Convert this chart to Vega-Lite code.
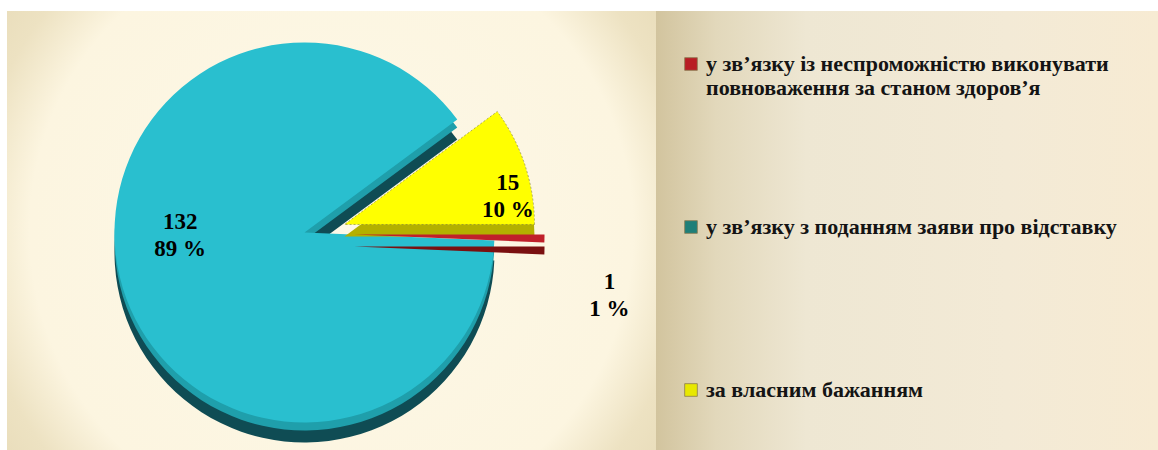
{
  "$schema": "https://vega.github.io/schema/vega-lite/v6.json",
  "background": "white",
  "padding": {"left": 7, "top": 11, "right": 0, "bottom": 0},
  "config": {"view": {"stroke": null}, "font": "Liberation Serif"},
  "data": {
    "values": [
      {"cat": "у зв’язку із неспроможністю виконувати\nповноваження за станом здоров’я", "value": 1, "label": "1\n1 %", "n": 2},
      {"cat": "у  зв’язку з поданням заяви про відставку", "value": 132, "label": "132\n89 %", "n": 3},
      {"cat": "за власним бажанням", "value": 15, "label": "15\n10 %", "n": 1}
    ]
  },
  "spacing": 0,
  "resolve": {"scale": {"color": "independent", "theta": "independent"}, "legend": {"color": "independent"}},
  "hconcat": [
    {
      "width": 649,
      "height": 439,
      "view": {
        "stroke": null,
        "fill": {
          "gradient": "radial",
          "x1": 0.5, "y1": 0.5, "r1": 0,
          "x2": 0.5, "y2": 0.5, "r2": 0.75,
          "stops": [
            {"offset": 0, "color": "#fdf8e7"},
            {"offset": 0.62, "color": "#fcf5e0"},
            {"offset": 0.74, "color": "#ede2c2"},
            {"offset": 1, "color": "#e0d2ab"}
          ]
        }
      },
      "encoding": {
        "theta": {"field": "value", "type": "quantitative", "stack": true, "scale": {"range": [0.9339, 7.2171]}},
        "order": {"field": "n", "type": "quantitative"}
      },
      "layer": [
        {
          "mark": {"type": "arc", "radius": 190, "xOffset": -27, "yOffset": 22, "fill": "#0f4c54"},
          "encoding": {"opacity": {"condition": {"test": "datum.n == 3", "value": 1}, "value": 0}}
        },
        {
          "mark": {"type": "arc", "radius": 190, "xOffset": -27, "yOffset": 10, "fill": "#1f9fab"},
          "encoding": {"opacity": {"condition": {"test": "datum.n == 3", "value": 1}, "value": 0}}
        },
        {
          "mark": {"type": "arc", "radius": 190, "xOffset": -27, "yOffset": 2, "fill": "#29bfcf"},
          "encoding": {"opacity": {"condition": {"test": "datum.n == 3", "value": 1}, "value": 0}}
        },
        {
          "mark": {"type": "arc", "radius": 190, "xOffset": 13, "yOffset": 6, "fill": "#b3b000"},
          "encoding": {"opacity": {"condition": {"test": "datum.n == 1", "value": 1}, "value": 0}}
        },
        {
          "mark": {"type": "arc", "radius": 190, "xOffset": 13, "yOffset": -6, "fill": "#ffff00", "stroke": "#7a7a40", "strokeWidth": 0.6, "strokeDash": [2, 2]},
          "encoding": {"opacity": {"condition": {"test": "datum.n == 1", "value": 1}, "value": 0}}
        },
        {
          "mark": {"type": "arc", "radius": 190, "xOffset": 23, "yOffset": 16, "fill": "#7a1010"},
          "encoding": {"opacity": {"condition": {"test": "datum.n == 2", "value": 1}, "value": 0}}
        },
        {
          "mark": {"type": "arc", "radius": 190, "xOffset": 23, "yOffset": 4, "fill": "#c0202a"},
          "encoding": {"opacity": {"condition": {"test": "datum.n == 2", "value": 1}, "value": 0}}
        },
        {
          "mark": {"type": "text", "radius": 130, "xOffset": -27, "yOffset": 2, "dy": -49, "font": "Liberation Serif", "fontWeight": "bold", "fontSize": 23, "lineBreak": "\n", "lineHeight": 27, "color": "#000000"},
          "encoding": {"text": {"condition": {"test": "datum.n == 3", "field": "label"}, "value": ""}}
        },
        {
          "mark": {"type": "text", "radius": 172, "xOffset": 13, "yOffset": -6, "dy": 12, "font": "Liberation Serif", "fontWeight": "bold", "fontSize": 23, "lineBreak": "\n", "lineHeight": 27, "color": "#000000"},
          "encoding": {"text": {"condition": {"test": "datum.n == 1", "field": "label"}, "value": ""}}
        },
        {
          "mark": {"type": "text", "radius": 255, "xOffset": 23, "yOffset": 4, "dy": 42, "font": "Liberation Serif", "fontWeight": "bold", "fontSize": 23, "lineBreak": "\n", "lineHeight": 27, "color": "#000000"},
          "encoding": {"text": {"condition": {"test": "datum.n == 2", "field": "label"}, "value": ""}}
        }
      ]
    },
    {
      "width": 502,
      "height": 439,
      "view": {
        "stroke": null,
        "fill": {
          "gradient": "linear",
          "x1": 0, "y1": 0, "x2": 1, "y2": 0,
          "stops": [
            {"offset": 0, "color": "#d2c49e"},
            {"offset": 0.12, "color": "#e2d8bb"},
            {"offset": 0.3, "color": "#eee7d3"},
            {"offset": 0.7, "color": "#f3ead6"},
            {"offset": 1, "color": "#f7ebd3"}
          ]
        }
      },
      "mark": {"type": "point", "filled": true, "opacity": 0, "size": 0},
      "encoding": {
        "color": {
          "field": "cat",
          "type": "nominal",
          "scale": {
            "domain": [
              "у зв’язку із неспроможністю виконувати\nповноваження за станом здоров’я",
              "у  зв’язку з поданням заяви про відставку",
              "за власним бажанням"
            ],
            "range": ["#b81d24", "#1e7f78", "#e8e800"]
          },
          "legend": {
            "title": null,
            "orient": "none",
            "legendX": 24,
            "legendY": 42,
            "padding": 0,
            "symbolType": "square",
            "symbolSize": 160,
            "symbolOpacity": 1,
            "symbolStrokeColor": "#8a7a50",
            "symbolStrokeWidth": 0.8,
            "labelFont": "Liberation Serif",
            "labelFontSize": 22,
            "labelFontWeight": "bold",
            "labelColor": "#141414",
            "labelLimit": 800,
            "labelOffset": 4,
            "labelBaseline": "middle",
            "labelExpr": "indexof(datum.label, '\\n') >= 0 ? split(datum.label, '\\n') : split(datum.label + '\\n ', '\\n')",
            "rowPadding": 117
          }
        }
      }
    }
  ]
}
